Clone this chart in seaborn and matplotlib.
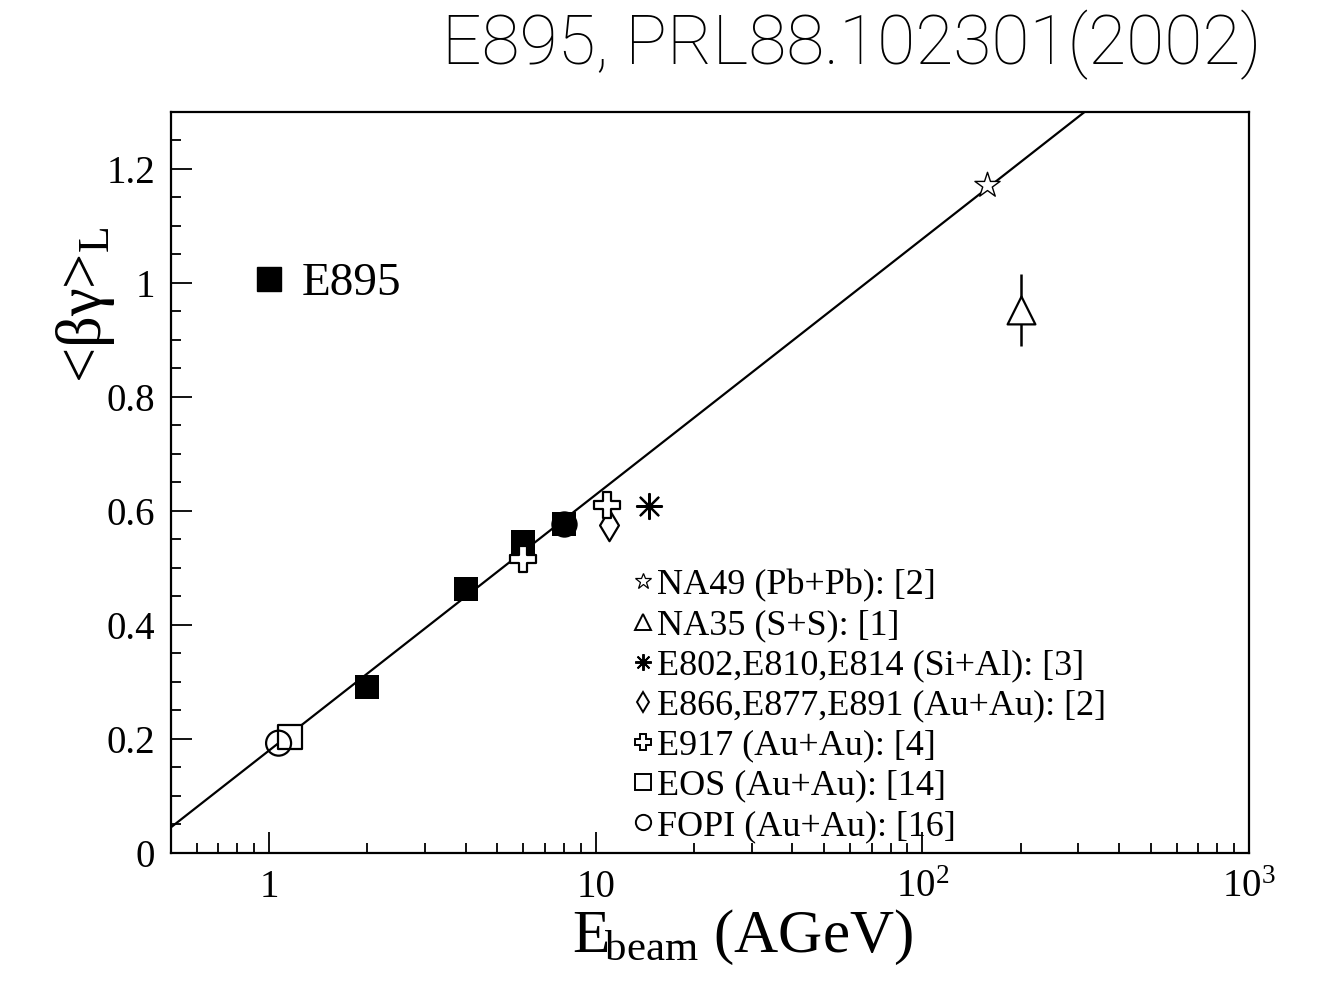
import numpy as np
import pandas as pd
import matplotlib
matplotlib.use("Agg")
import matplotlib.pyplot as plt
import seaborn as sns
from matplotlib.lines import Line2D
from matplotlib.ticker import MultipleLocator, LogLocator, FuncFormatter, NullFormatter

# ---- data: beam energy (AGeV) and <beta gamma>_L ----
e895_energy = [2, 4, 6, 8]
e895_bg = [0.291, 0.463, 0.546, 0.577]

na49_energy = [158]
na49_bg = [1.172]

na35_energy = [200]
na35_bg = [0.952]
na35_err = [0.063]

si_al_energy = [14.6]
si_al_bg = [0.609]

e866_energy = [11.0]
e866_bg = [0.575]

e917_energy = [6.0, 10.8]
e917_bg = [0.515, 0.610]

eos_energy = [1.16]
eos_bg = [0.203]

fopi_energy = [1.07]
fopi_bg = [0.192]

# linear fit in log10(E)
fit_intercept = 0.179
fit_slope = 0.449

legend_labels = [
    "NA49 (Pb+Pb): [2]",
    "NA35 (S+S): [1]",
    "E802,E810,E814 (Si+Al): [3]",
    "E866,E877,E891 (Au+Au): [2]",
    "E917 (Au+Au): [4]",
    "EOS (Au+Au): [14]",
    "FOPI (Au+Au): [16]",
]

sns.set_theme(style="ticks")
serif = ["Liberation Serif", "DejaVu Serif"]
plt.rcParams["font.family"] = serif
plt.rcParams["text.color"] = "black"
plt.rcParams["axes.labelcolor"] = "black"
plt.rcParams["xtick.color"] = "black"
plt.rcParams["ytick.color"] = "black"
plt.rcParams["legend.labelcolor"] = "black"
plt.rcParams["mathtext.fontset"] = "custom"
plt.rcParams["mathtext.rm"] = "Liberation Serif"
plt.rcParams["mathtext.it"] = "Liberation Serif:italic"
plt.rcParams["mathtext.bf"] = "Liberation Serif:bold"

fig = plt.figure(figsize=(13.27, 9.84), dpi=100)
ax = fig.add_axes([0.1286, 0.1336, 0.8126, 0.7526])

ax.set_xscale("log")
ax.set_xlim(0.5, 1000)
ax.set_ylim(0, 1.3)

# fit line
e_line = np.geomspace(0.5, 1000, 60)
fit_df = pd.DataFrame({"E": e_line, "bg": fit_intercept + fit_slope * np.log10(e_line)})
sns.lineplot(data=fit_df, x="E", y="bg", color="black", linewidth=1.6, ax=ax, zorder=2)

def pts(e, v):
    return pd.DataFrame({"E": e, "bg": v})

lw = 1.6
# E895 filled squares (last point has an overlapping filled circle)
sns.scatterplot(data=pts(e895_energy, e895_bg), x="E", y="bg", marker="s", s=17.5**2,
                color="black", edgecolor="black", linewidth=0, ax=ax, zorder=4)
sns.scatterplot(data=pts(e895_energy[-1:], e895_bg[-1:]), x="E", y="bg", marker="o", s=19**2,
                color="black", edgecolor="black", linewidth=0, ax=ax, zorder=4)
# NA49 open star
sns.scatterplot(data=pts(na49_energy, na49_bg), x="E", y="bg", marker="*", s=19**2,
                color="white", edgecolor="black", linewidth=1.0, ax=ax, zorder=5)
# NA35 open triangle with error bar
ax.errorbar(na35_energy, na35_bg, yerr=na35_err, fmt="none", ecolor="black",
            elinewidth=1.8, capsize=0, zorder=3)
sns.scatterplot(data=pts(na35_energy, na35_bg), x="E", y="bg", marker="^", s=20**2,
                color="white", edgecolor="black", linewidth=lw, ax=ax, zorder=5)
# Si+Al asterisk
sns.scatterplot(data=pts(si_al_energy, si_al_bg), x="E", y="bg", marker=(8, 2, 0), s=18**2,
                color="black", edgecolor="black", linewidth=1.6, ax=ax, zorder=5)
# E866/E877/E891 open diamond
sns.scatterplot(data=pts(e866_energy, e866_bg), x="E", y="bg", marker="d", s=16**2,
                color="white", edgecolor="black", linewidth=lw, ax=ax, zorder=5)
# E917 open cross
sns.scatterplot(data=pts(e917_energy, e917_bg), x="E", y="bg", marker="P", s=18.5**2,
                color="white", edgecolor="black", linewidth=lw, ax=ax, zorder=5)
# EOS open square
sns.scatterplot(data=pts(eos_energy, eos_bg), x="E", y="bg", marker="s", s=17**2,
                color="white", edgecolor="black", linewidth=lw, ax=ax, zorder=3)
# FOPI open circle
sns.scatterplot(data=pts(fopi_energy, fopi_bg), x="E", y="bg", marker="o", s=18**2,
                color="none", edgecolor="black", linewidth=lw, ax=ax, zorder=4)

# axes styling
for sp in ax.spines.values():
    sp.set_linewidth(1.6)
    sp.set_color("black")
ax.set_xticks([1, 10, 100, 1000])
ax.set_xticklabels(["1", "10", r"$10^{2}$", r"$10^{3}$"])
ax.xaxis.set_minor_locator(LogLocator(base=10, subs=np.arange(2, 10)))
ax.xaxis.set_minor_formatter(NullFormatter())
ax.yaxis.set_major_locator(MultipleLocator(0.2))
ax.yaxis.set_minor_locator(MultipleLocator(0.05))
ax.yaxis.set_major_formatter(FuncFormatter(lambda v, p: f"{v:g}"))
ax.tick_params(which="major", direction="in", length=15, width=1.3, labelsize=28,
               top=False, right=False, color="black", labelcolor="black")
ax.tick_params(which="minor", direction="in", length=7.5, width=1.3, top=False, right=False,
               color="black")
ax.tick_params(axis="x", which="major", pad=12)
ax.tick_params(axis="y", which="major", pad=11)

ax.set_xlabel(r"$\mathrm{E}_{\!\mathrm{beam}}\ \mathrm{(AGeV)}$", fontsize=44, color="black")
ax.xaxis.set_label_coords(0.530, -0.074)
ax.set_ylabel(r"<βγ>$_{\mathrm{L}}$", fontsize=45, color="black")
ax.yaxis.set_label_coords(-0.05, 0.739)

# legends
handles = [
    Line2D([], [], ls="", marker="*", ms=12, mfc="white", mec="black", mew=0.9),
    Line2D([], [], ls="", marker="^", ms=12, mfc="white", mec="black", mew=1.4),
    Line2D([], [], ls="", marker=(8, 2, 0), ms=12, color="black", mew=1.4),
    Line2D([], [], ls="", marker="d", ms=10, mfc="white", mec="black", mew=1.4),
    Line2D([], [], ls="", marker="P", ms=11, mfc="white", mec="black", mew=1.4),
    Line2D([], [], ls="", marker="s", ms=11, mfc="white", mec="black", mew=1.4),
    Line2D([], [], ls="", marker="o", ms=11, mfc="white", mec="black", mew=1.4),
]
leg = ax.legend(handles, legend_labels, loc="center left", bbox_to_anchor=(0.429, 0.198),
                frameon=False, fontsize=26, handlelength=0.55, handletextpad=0.1,
                labelspacing=0.19, borderpad=0, borderaxespad=0)
ax.add_artist(leg)

e895_handle = [Line2D([], [], ls="", marker="s", ms=17.5, color="black")]
ax.legend(e895_handle, ["E895"], loc="center left", bbox_to_anchor=(0.0794, 0.768),
          frameon=False, fontsize=34, handlelength=0.55, handletextpad=0.42,
          borderpad=0, borderaxespad=0)

# header text
fig.text(0.951, 0.954, "E895, PRL88.102301(2002)", ha="right", va="center",
         fontsize=50, family=["Roboto", "DejaVu Sans"], fontweight="light", color="black")

fig.savefig("out.png", dpi=100, facecolor="white")
